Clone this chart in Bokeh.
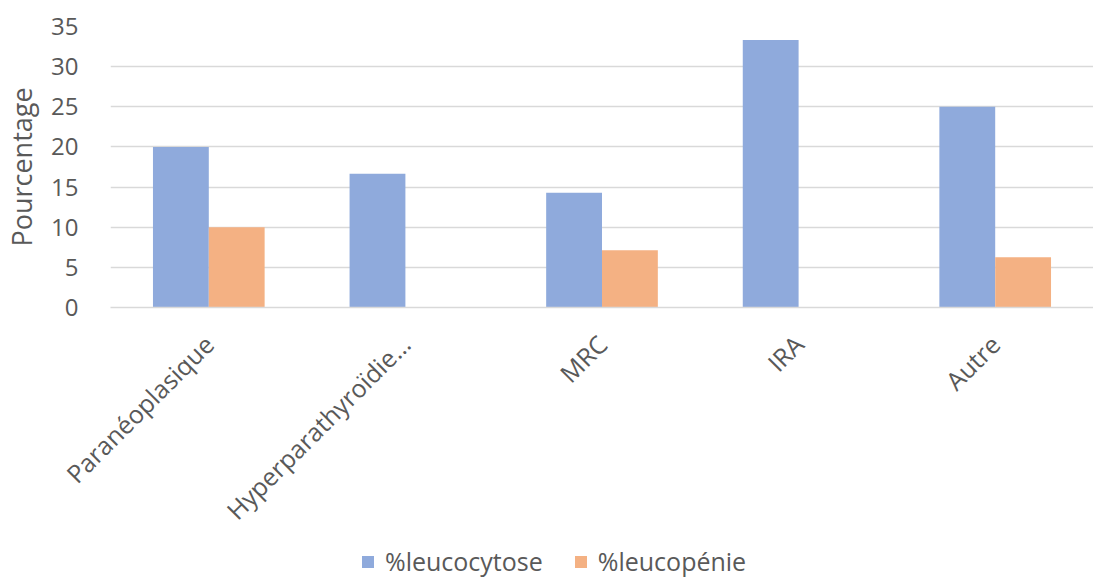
import math
from bokeh.plotting import figure
from bokeh.layouts import column
from bokeh.models import FactorRange, ColumnDataSource, Legend, LegendItem, SingleIntervalTicker
from bokeh.transform import dodge
from bokeh.embed import file_html
from bokeh.resources import INLINE

categories = ["Paranéoplasique", "Hyperparathyroïdie…", "MRC", "IRA", "Autre"]
leucocytose = [20.0, 16.67, 14.29, 33.33, 25.0]
leucopenie = [10.0, 0.0, 7.14, 0.0, 6.25]
series_names = ["%leucocytose", "%leucopénie"]
colors = ["#8FAADC", "#F4B183"]

FONT = "Open Sans"
TXT = "#595959"

src = ColumnDataSource(dict(cat=categories, a=leucocytose, b=leucopenie))

W = 1093
p = figure(
    width=W, height=541,
    x_range=FactorRange(*categories, range_padding=0),
    y_range=(0, 35),
    output_backend="svg", toolbar_location=None,
    min_border_left=108, min_border_right=0, min_border_top=26, min_border_bottom=234,
)
p.outline_line_color = None

bw = 0.284
p.vbar(x=dodge("cat", -bw / 2, range=p.x_range), top="a", width=bw, source=src,
       fill_color=colors[0], line_color=None)
p.vbar(x=dodge("cat", bw / 2, range=p.x_range), top="b", width=bw, source=src,
       fill_color=colors[1], line_color=None)

p.xgrid.grid_line_color = None
p.ygrid.grid_line_color = "#D9D9D9"
p.ygrid.grid_line_width = 1.5
p.yaxis.ticker = SingleIntervalTicker(interval=5)

p.yaxis.axis_line_color = None
p.yaxis.major_tick_line_color = None
p.yaxis.minor_tick_line_color = None
p.yaxis.major_label_text_font = FONT
p.yaxis.major_label_text_font_size = "24px"
p.yaxis.major_label_text_color = TXT
p.yaxis.major_label_standoff = 26
p.yaxis.axis_label = "Pourcentage"
p.yaxis.axis_label_text_font = FONT
p.yaxis.axis_label_text_font_size = "27px"
p.yaxis.axis_label_text_font_style = "normal"
p.yaxis.axis_label_text_color = TXT
p.yaxis.axis_label_standoff = 8

p.xaxis.axis_line_color = "#D9D9D9"
p.xaxis.axis_line_width = 1.5
p.xaxis.major_tick_line_color = None
p.xaxis.minor_tick_line_color = None
p.xaxis.major_label_orientation = math.pi / 4
p.xaxis.major_label_text_font = FONT
p.xaxis.major_label_text_font_size = "25px"
p.xaxis.major_label_text_color = TXT
p.xaxis.major_label_standoff = 26

# legend strip below the chart
lg = figure(width=W, height=37, x_range=(0, 1), y_range=(0, 1),
            output_backend="svg", toolbar_location=None,
            x_axis_type=None, y_axis_type=None,
            min_border_left=0, min_border_right=0, min_border_top=0, min_border_bottom=0)
lg.outline_line_color = None
lg.xgrid.grid_line_color = None
lg.ygrid.grid_line_color = None
dummy = ColumnDataSource(dict(x=[5.0], top=[0.0]))
g1 = lg.vbar(x="x", top="top", width=0.1, source=dummy, fill_color=colors[0], line_color=None)
g2 = lg.vbar(x="x", top="top", width=0.1, source=dummy, fill_color=colors[1], line_color=None)
legend = Legend(
    items=[LegendItem(label=series_names[0], renderers=[g1]),
           LegendItem(label=series_names[1], renderers=[g2])],
    orientation="horizontal", location=(250, 0),
    label_text_font=FONT, label_text_font_size="25px", label_text_color=TXT,
    glyph_width=15, glyph_height=15, label_standoff=10, spacing=30,
    padding=0, margin=0, border_line_color=None, background_fill_alpha=0,
)
lg.add_layout(legend, "center")

layout = column(p, lg, spacing=0)
open("out.html", "w").write(file_html(layout, INLINE))
